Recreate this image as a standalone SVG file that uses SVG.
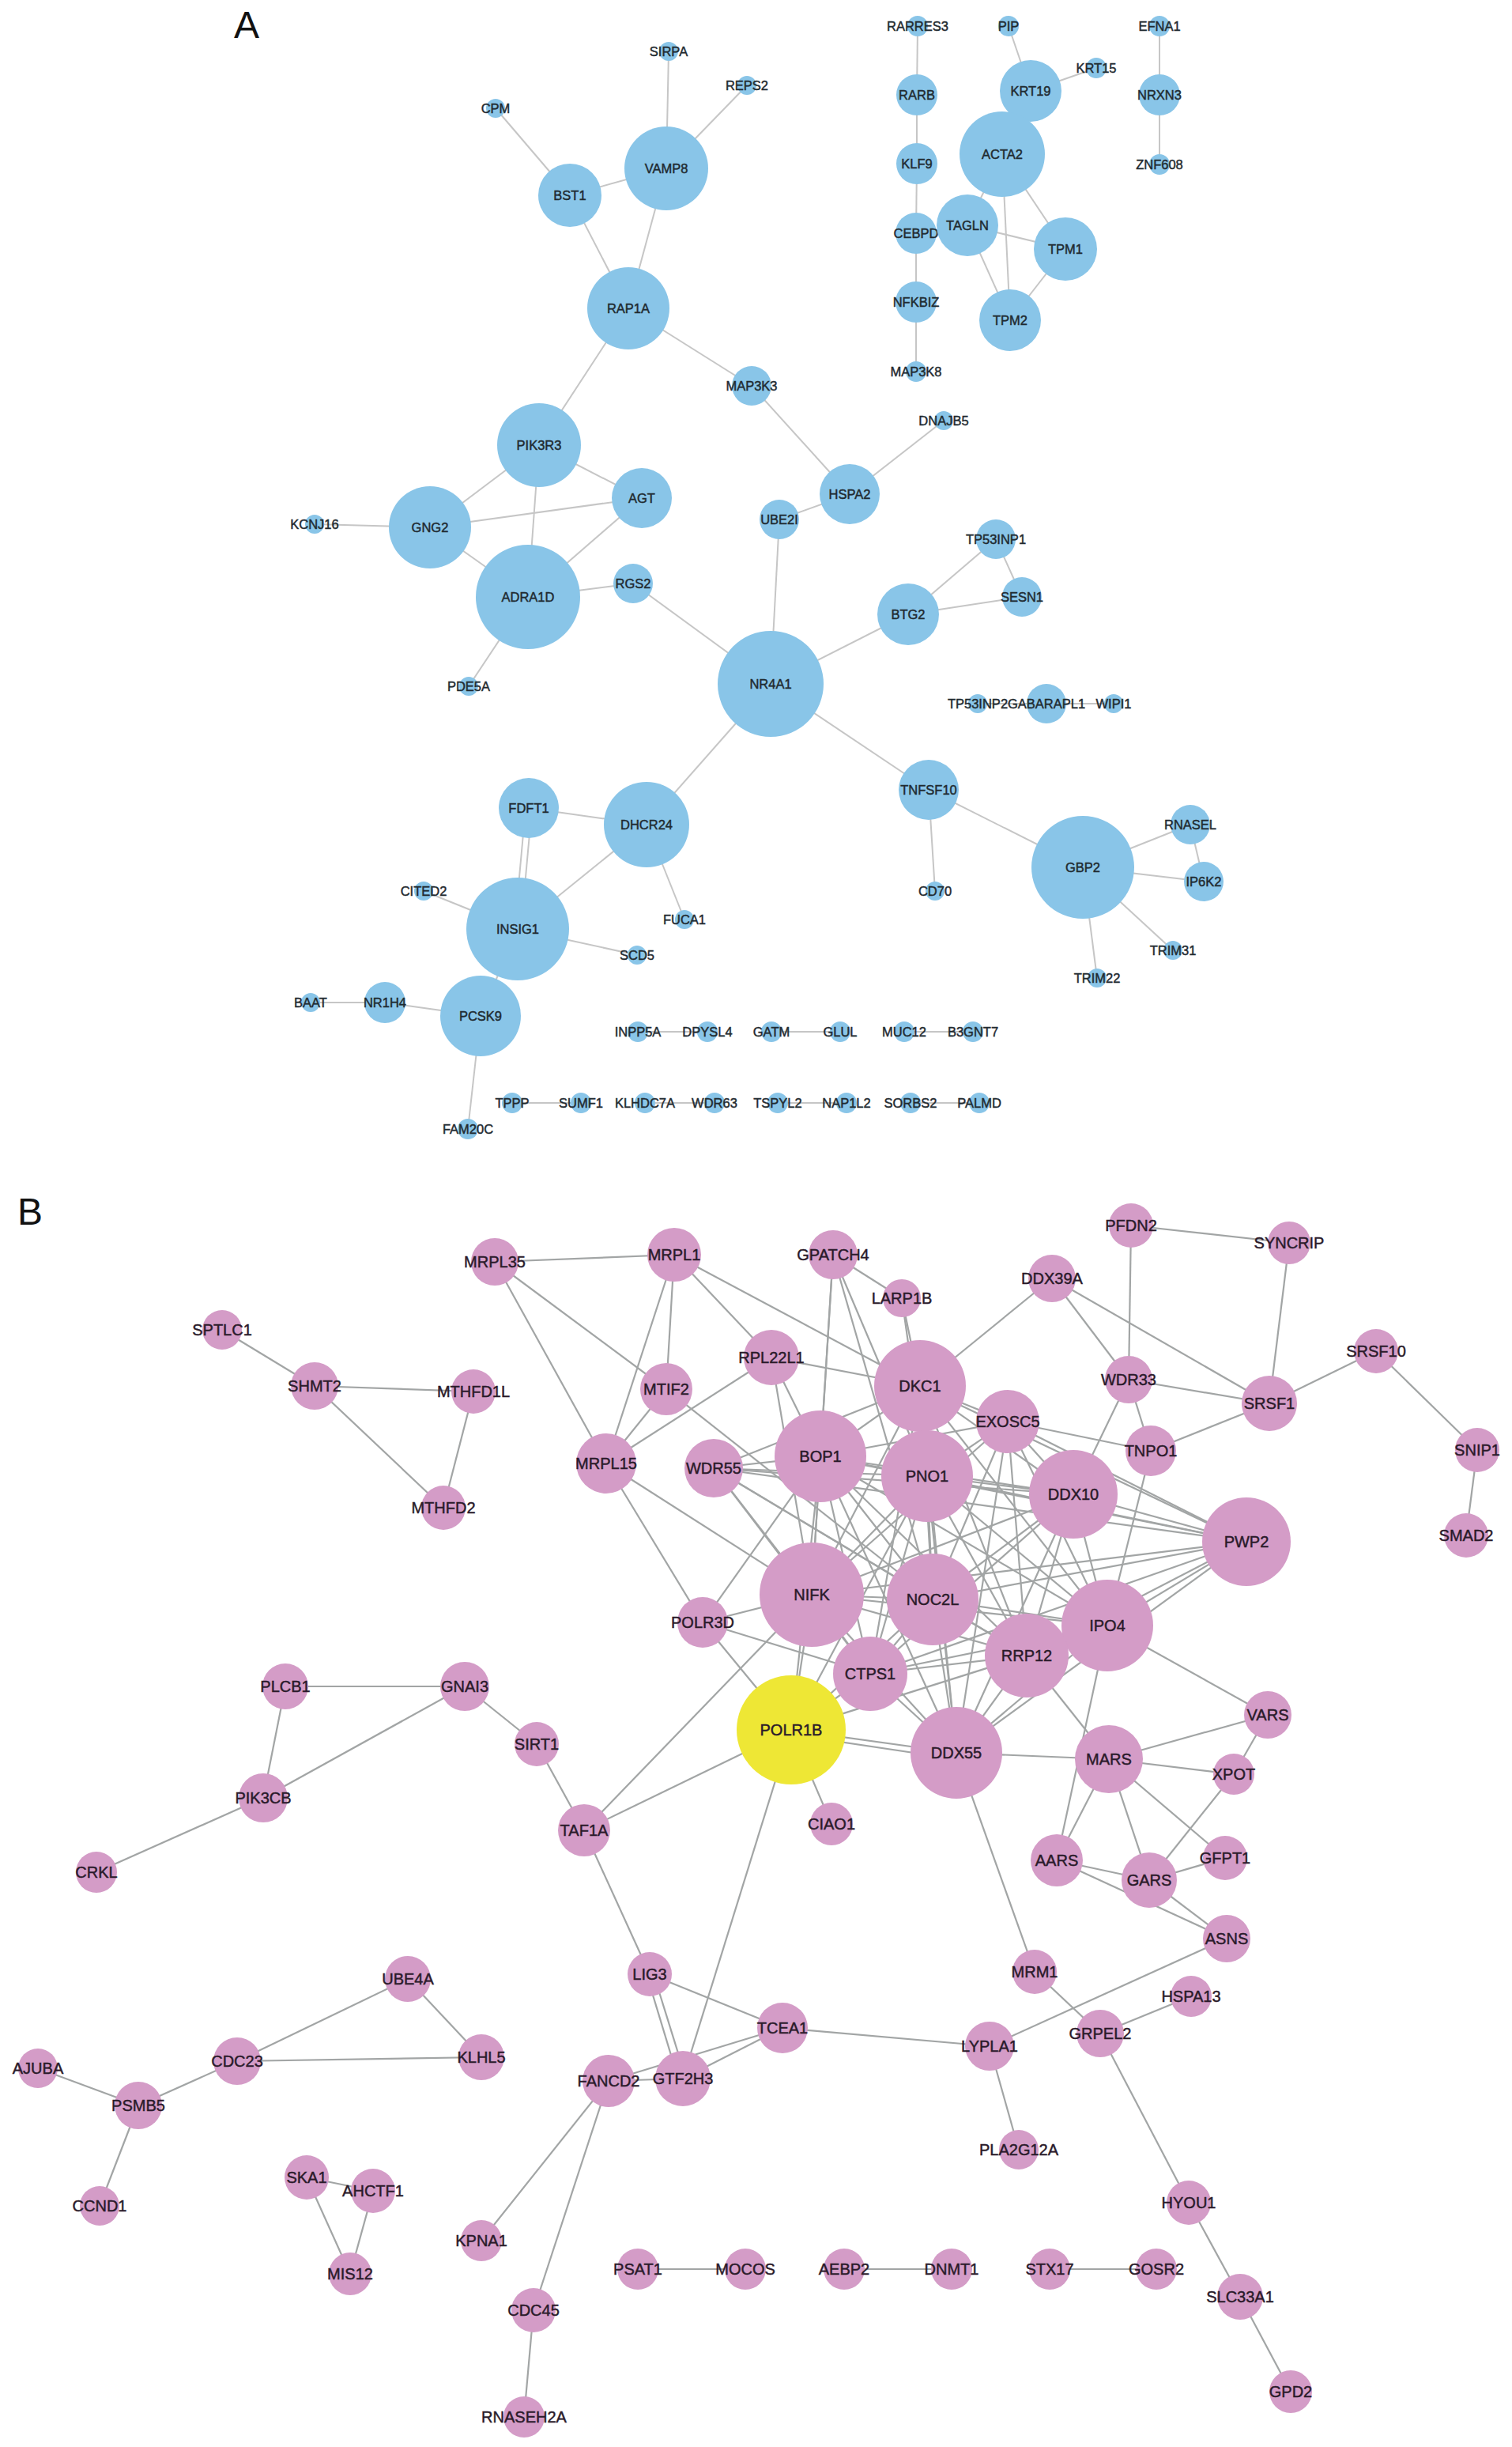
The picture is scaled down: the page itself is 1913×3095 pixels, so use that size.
<svg xmlns="http://www.w3.org/2000/svg" width="1913" height="3095" viewBox="0 0 1913 3095">
<style>
.bg{fill:#ffffff}
.ea line{stroke:#c6c6c6;stroke-width:2}
.eb line{stroke:#a2a5a5;stroke-width:2.2}
.na{fill:#89c5e8}
.nb{fill:#d49cc7}
.ny{fill:#eee735}
text{font-family:"Liberation Sans",Arial,sans-serif;text-anchor:middle;dominant-baseline:central}
.la{font-size:16.5px;fill:#1f2a30;stroke:#1f2a30;stroke-width:0.45}
.lb{font-size:20px;fill:#2a1a2a;stroke:#2a1a2a;stroke-width:0.45}
.panel{font-size:48px;fill:#111;text-anchor:start;dominant-baseline:alphabetic}
</style>
<rect class="bg" x="0" y="0" width="1913" height="3095"/>
<text class="panel" x="296" y="48">A</text>
<text class="panel" x="22" y="1549">B</text>

<g id="edges-A" class="ea">
<line x1="627" y1="137" x2="721" y2="247"/>
<line x1="846" y1="65" x2="843" y2="213"/>
<line x1="945" y1="108" x2="843" y2="213"/>
<line x1="721" y1="247" x2="843" y2="213"/>
<line x1="721" y1="247" x2="795" y2="390"/>
<line x1="843" y1="213" x2="795" y2="390"/>
<line x1="795" y1="390" x2="951" y2="488"/>
<line x1="795" y1="390" x2="682" y2="563"/>
<line x1="951" y1="488" x2="1075" y2="625"/>
<line x1="1075" y1="625" x2="1194" y2="532"/>
<line x1="1075" y1="625" x2="986" y2="657"/>
<line x1="986" y1="657" x2="975" y2="865"/>
<line x1="682" y1="563" x2="544" y2="667"/>
<line x1="682" y1="563" x2="812" y2="630"/>
<line x1="682" y1="563" x2="668" y2="755"/>
<line x1="544" y1="667" x2="812" y2="630"/>
<line x1="544" y1="667" x2="398" y2="663"/>
<line x1="544" y1="667" x2="668" y2="755"/>
<line x1="812" y1="630" x2="668" y2="755"/>
<line x1="668" y1="755" x2="801" y2="738"/>
<line x1="668" y1="755" x2="593" y2="868"/>
<line x1="801" y1="738" x2="975" y2="865"/>
<line x1="975" y1="865" x2="1149" y2="777"/>
<line x1="1149" y1="777" x2="1260" y2="682"/>
<line x1="1149" y1="777" x2="1293" y2="755"/>
<line x1="1260" y1="682" x2="1293" y2="755"/>
<line x1="975" y1="865" x2="818" y2="1043"/>
<line x1="975" y1="865" x2="1175" y2="999"/>
<line x1="1237" y1="890" x2="1324" y2="890"/>
<line x1="1324" y1="890" x2="1409" y2="890"/>
<line x1="1161" y1="33" x2="1160" y2="120"/>
<line x1="1160" y1="120" x2="1160" y2="207"/>
<line x1="1160" y1="207" x2="1159" y2="295"/>
<line x1="1159" y1="295" x2="1159" y2="382"/>
<line x1="1159" y1="382" x2="1159" y2="470"/>
<line x1="1276" y1="33" x2="1304" y2="115"/>
<line x1="1304" y1="115" x2="1387" y2="86"/>
<line x1="1304" y1="115" x2="1268" y2="195"/>
<line x1="1268" y1="195" x2="1224" y2="285"/>
<line x1="1268" y1="195" x2="1348" y2="315"/>
<line x1="1268" y1="195" x2="1278" y2="405"/>
<line x1="1224" y1="285" x2="1348" y2="315"/>
<line x1="1224" y1="285" x2="1278" y2="405"/>
<line x1="1348" y1="315" x2="1278" y2="405"/>
<line x1="1467" y1="33" x2="1467" y2="120"/>
<line x1="1467" y1="120" x2="1467" y2="208"/>
<line x1="818" y1="1043" x2="669" y2="1022"/>
<line x1="818" y1="1043" x2="655" y2="1175"/>
<line x1="818" y1="1043" x2="866" y2="1163"/>
<line x1="665" y1="1022" x2="651" y2="1175"/>
<line x1="673" y1="1022" x2="659" y2="1175"/>
<line x1="655" y1="1175" x2="536" y2="1127"/>
<line x1="655" y1="1175" x2="806" y2="1208"/>
<line x1="655" y1="1175" x2="608" y2="1285"/>
<line x1="608" y1="1285" x2="487" y2="1268"/>
<line x1="487" y1="1268" x2="393" y2="1268"/>
<line x1="608" y1="1285" x2="592" y2="1428"/>
<line x1="1175" y1="999" x2="1183" y2="1127"/>
<line x1="1175" y1="999" x2="1370" y2="1097"/>
<line x1="1370" y1="1097" x2="1506" y2="1043"/>
<line x1="1370" y1="1097" x2="1523" y2="1115"/>
<line x1="1506" y1="1043" x2="1523" y2="1115"/>
<line x1="1370" y1="1097" x2="1484" y2="1202"/>
<line x1="1370" y1="1097" x2="1388" y2="1237"/>
<line x1="807" y1="1305" x2="895" y2="1305"/>
<line x1="976" y1="1305" x2="1063" y2="1305"/>
<line x1="1144" y1="1305" x2="1231" y2="1305"/>
<line x1="648" y1="1395" x2="735" y2="1395"/>
<line x1="816" y1="1395" x2="904" y2="1395"/>
<line x1="984" y1="1395" x2="1071" y2="1395"/>
<line x1="1152" y1="1395" x2="1239" y2="1395"/>
</g>

<g id="edges-B" class="eb">
<line x1="1038" y1="1842" x2="1173" y2="1867"/>
<line x1="1038" y1="1842" x2="1164" y2="1753"/>
<line x1="1038" y1="1842" x2="1027" y2="2017"/>
<line x1="1038" y1="1842" x2="1180" y2="2023"/>
<line x1="1038" y1="1842" x2="1358" y2="1890"/>
<line x1="1038" y1="1842" x2="1577" y2="1950"/>
<line x1="1038" y1="1842" x2="1401" y2="2056"/>
<line x1="1038" y1="1842" x2="1299" y2="2094"/>
<line x1="1038" y1="1842" x2="1210" y2="2217"/>
<line x1="1038" y1="1842" x2="1101" y2="2117"/>
<line x1="1038" y1="1842" x2="1275" y2="1798"/>
<line x1="1038" y1="1842" x2="903" y2="1857"/>
<line x1="1173" y1="1867" x2="1164" y2="1753"/>
<line x1="1173" y1="1867" x2="1027" y2="2017"/>
<line x1="1173" y1="1867" x2="1180" y2="2023"/>
<line x1="1173" y1="1867" x2="1358" y2="1890"/>
<line x1="1173" y1="1867" x2="1577" y2="1950"/>
<line x1="1173" y1="1867" x2="1401" y2="2056"/>
<line x1="1173" y1="1867" x2="1299" y2="2094"/>
<line x1="1173" y1="1867" x2="1210" y2="2217"/>
<line x1="1173" y1="1867" x2="1101" y2="2117"/>
<line x1="1173" y1="1867" x2="1275" y2="1798"/>
<line x1="1173" y1="1867" x2="903" y2="1857"/>
<line x1="1164" y1="1753" x2="1027" y2="2017"/>
<line x1="1164" y1="1753" x2="1180" y2="2023"/>
<line x1="1164" y1="1753" x2="1358" y2="1890"/>
<line x1="1164" y1="1753" x2="1577" y2="1950"/>
<line x1="1164" y1="1753" x2="1401" y2="2056"/>
<line x1="1164" y1="1753" x2="1299" y2="2094"/>
<line x1="1164" y1="1753" x2="1210" y2="2217"/>
<line x1="1164" y1="1753" x2="1101" y2="2117"/>
<line x1="1164" y1="1753" x2="1275" y2="1798"/>
<line x1="1164" y1="1753" x2="903" y2="1857"/>
<line x1="1027" y1="2017" x2="1180" y2="2023"/>
<line x1="1027" y1="2017" x2="1358" y2="1890"/>
<line x1="1027" y1="2017" x2="1577" y2="1950"/>
<line x1="1027" y1="2017" x2="1401" y2="2056"/>
<line x1="1027" y1="2017" x2="1299" y2="2094"/>
<line x1="1027" y1="2017" x2="1210" y2="2217"/>
<line x1="1027" y1="2017" x2="1101" y2="2117"/>
<line x1="1027" y1="2017" x2="1275" y2="1798"/>
<line x1="1027" y1="2017" x2="903" y2="1857"/>
<line x1="1180" y1="2023" x2="1358" y2="1890"/>
<line x1="1180" y1="2023" x2="1577" y2="1950"/>
<line x1="1180" y1="2023" x2="1401" y2="2056"/>
<line x1="1180" y1="2023" x2="1299" y2="2094"/>
<line x1="1180" y1="2023" x2="1210" y2="2217"/>
<line x1="1180" y1="2023" x2="1101" y2="2117"/>
<line x1="1180" y1="2023" x2="1275" y2="1798"/>
<line x1="1180" y1="2023" x2="903" y2="1857"/>
<line x1="1358" y1="1890" x2="1577" y2="1950"/>
<line x1="1358" y1="1890" x2="1401" y2="2056"/>
<line x1="1358" y1="1890" x2="1299" y2="2094"/>
<line x1="1358" y1="1890" x2="1210" y2="2217"/>
<line x1="1358" y1="1890" x2="1101" y2="2117"/>
<line x1="1358" y1="1890" x2="1275" y2="1798"/>
<line x1="1358" y1="1890" x2="903" y2="1857"/>
<line x1="1577" y1="1950" x2="1401" y2="2056"/>
<line x1="1577" y1="1950" x2="1299" y2="2094"/>
<line x1="1577" y1="1950" x2="1210" y2="2217"/>
<line x1="1577" y1="1950" x2="1101" y2="2117"/>
<line x1="1577" y1="1950" x2="1275" y2="1798"/>
<line x1="1577" y1="1950" x2="903" y2="1857"/>
<line x1="1401" y1="2056" x2="1299" y2="2094"/>
<line x1="1401" y1="2056" x2="1210" y2="2217"/>
<line x1="1401" y1="2056" x2="1101" y2="2117"/>
<line x1="1401" y1="2056" x2="1275" y2="1798"/>
<line x1="1299" y1="2094" x2="1210" y2="2217"/>
<line x1="1299" y1="2094" x2="1101" y2="2117"/>
<line x1="1299" y1="2094" x2="1275" y2="1798"/>
<line x1="1299" y1="2094" x2="903" y2="1857"/>
<line x1="1210" y1="2217" x2="1101" y2="2117"/>
<line x1="1210" y1="2217" x2="1275" y2="1798"/>
<line x1="1101" y1="2117" x2="903" y2="1857"/>
<line x1="281" y1="1682" x2="398" y2="1753"/>
<line x1="398" y1="1753" x2="599" y2="1760"/>
<line x1="398" y1="1753" x2="561" y2="1907"/>
<line x1="599" y1="1760" x2="561" y2="1907"/>
<line x1="626" y1="1596" x2="853" y2="1587"/>
<line x1="626" y1="1596" x2="767" y2="1851"/>
<line x1="626" y1="1596" x2="843" y2="1757"/>
<line x1="853" y1="1587" x2="843" y2="1757"/>
<line x1="853" y1="1587" x2="767" y2="1851"/>
<line x1="853" y1="1587" x2="976" y2="1717"/>
<line x1="853" y1="1587" x2="1164" y2="1753"/>
<line x1="767" y1="1851" x2="843" y2="1757"/>
<line x1="767" y1="1851" x2="976" y2="1717"/>
<line x1="767" y1="1851" x2="1027" y2="2017"/>
<line x1="767" y1="1851" x2="889" y2="2052"/>
<line x1="843" y1="1757" x2="1180" y2="2023"/>
<line x1="976" y1="1717" x2="1164" y2="1753"/>
<line x1="976" y1="1717" x2="1038" y2="1842"/>
<line x1="976" y1="1717" x2="1027" y2="2017"/>
<line x1="1054" y1="1587" x2="1141" y2="1642"/>
<line x1="1054" y1="1587" x2="1038" y2="1842"/>
<line x1="1054" y1="1587" x2="1027" y2="2017"/>
<line x1="1054" y1="1587" x2="1173" y2="1867"/>
<line x1="1054" y1="1587" x2="1180" y2="2023"/>
<line x1="1141" y1="1642" x2="1164" y2="1753"/>
<line x1="1141" y1="1642" x2="1173" y2="1867"/>
<line x1="1331" y1="1617" x2="1164" y2="1753"/>
<line x1="1331" y1="1617" x2="1428" y2="1745"/>
<line x1="1331" y1="1617" x2="1606" y2="1775"/>
<line x1="1431" y1="1550" x2="1631" y2="1572"/>
<line x1="1431" y1="1550" x2="1428" y2="1745"/>
<line x1="1631" y1="1572" x2="1606" y2="1775"/>
<line x1="1428" y1="1745" x2="1606" y2="1775"/>
<line x1="1428" y1="1745" x2="1456" y2="1835"/>
<line x1="1428" y1="1745" x2="1358" y2="1890"/>
<line x1="1606" y1="1775" x2="1456" y2="1835"/>
<line x1="1606" y1="1775" x2="1741" y2="1709"/>
<line x1="1741" y1="1709" x2="1869" y2="1834"/>
<line x1="1869" y1="1834" x2="1855" y2="1942"/>
<line x1="1275" y1="1798" x2="1456" y2="1835"/>
<line x1="1456" y1="1835" x2="1401" y2="2056"/>
<line x1="889" y1="2052" x2="1027" y2="2017"/>
<line x1="889" y1="2052" x2="1038" y2="1842"/>
<line x1="889" y1="2052" x2="1001" y2="2188"/>
<line x1="889" y1="2052" x2="1101" y2="2117"/>
<line x1="1001" y1="2188" x2="1052" y2="2307"/>
<line x1="1001" y1="2188" x2="739" y2="2315"/>
<line x1="1001" y1="2188" x2="864" y2="2629"/>
<line x1="1001" y1="2188" x2="1210" y2="2217"/>
<line x1="1001" y1="2194" x2="1210" y2="2225"/>
<line x1="1001" y1="2188" x2="1027" y2="2017"/>
<line x1="1001" y1="2188" x2="1101" y2="2117"/>
<line x1="1001" y1="2188" x2="1180" y2="2023"/>
<line x1="1001" y1="2188" x2="1173" y2="1867"/>
<line x1="1001" y1="2188" x2="1299" y2="2094"/>
<line x1="1001" y1="2188" x2="1038" y2="1842"/>
<line x1="739" y1="2315" x2="1027" y2="2017"/>
<line x1="739" y1="2315" x2="679" y2="2206"/>
<line x1="739" y1="2315" x2="822" y2="2497"/>
<line x1="361" y1="2133" x2="588" y2="2133"/>
<line x1="361" y1="2133" x2="333" y2="2274"/>
<line x1="588" y1="2133" x2="333" y2="2274"/>
<line x1="588" y1="2133" x2="679" y2="2206"/>
<line x1="333" y1="2274" x2="122" y2="2368"/>
<line x1="818" y1="2497" x2="858" y2="2629"/>
<line x1="827" y1="2497" x2="868" y2="2629"/>
<line x1="822" y1="2497" x2="990" y2="2565"/>
<line x1="864" y1="2629" x2="770" y2="2632"/>
<line x1="864" y1="2629" x2="990" y2="2565"/>
<line x1="770" y1="2632" x2="990" y2="2565"/>
<line x1="770" y1="2632" x2="609" y2="2834"/>
<line x1="770" y1="2632" x2="675" y2="2922"/>
<line x1="675" y1="2922" x2="663" y2="3057"/>
<line x1="990" y1="2565" x2="1252" y2="2588"/>
<line x1="1252" y1="2588" x2="1552" y2="2452"/>
<line x1="1252" y1="2588" x2="1289" y2="2719"/>
<line x1="1210" y1="2217" x2="1309" y2="2494"/>
<line x1="1309" y1="2494" x2="1392" y2="2572"/>
<line x1="1392" y1="2572" x2="1507" y2="2525"/>
<line x1="1392" y1="2572" x2="1504" y2="2786"/>
<line x1="1504" y1="2786" x2="1569" y2="2905"/>
<line x1="1569" y1="2905" x2="1633" y2="3025"/>
<line x1="1210" y1="2217" x2="1403" y2="2225"/>
<line x1="1401" y1="2056" x2="1604" y2="2169"/>
<line x1="1401" y1="2056" x2="1337" y2="2353"/>
<line x1="1299" y1="2094" x2="1403" y2="2225"/>
<line x1="1403" y1="2225" x2="1604" y2="2169"/>
<line x1="1403" y1="2225" x2="1561" y2="2244"/>
<line x1="1403" y1="2225" x2="1337" y2="2353"/>
<line x1="1403" y1="2225" x2="1454" y2="2378"/>
<line x1="1403" y1="2225" x2="1550" y2="2350"/>
<line x1="1604" y1="2169" x2="1561" y2="2244"/>
<line x1="1561" y1="2244" x2="1454" y2="2378"/>
<line x1="1337" y1="2353" x2="1454" y2="2378"/>
<line x1="1337" y1="2353" x2="1552" y2="2452"/>
<line x1="1454" y1="2378" x2="1552" y2="2452"/>
<line x1="1454" y1="2378" x2="1550" y2="2350"/>
<line x1="516" y1="2503" x2="300" y2="2607"/>
<line x1="516" y1="2503" x2="609" y2="2602"/>
<line x1="300" y1="2607" x2="609" y2="2602"/>
<line x1="300" y1="2607" x2="175" y2="2663"/>
<line x1="175" y1="2663" x2="48" y2="2616"/>
<line x1="175" y1="2663" x2="126" y2="2790"/>
<line x1="388" y1="2754" x2="472" y2="2771"/>
<line x1="388" y1="2754" x2="443" y2="2876"/>
<line x1="472" y1="2771" x2="443" y2="2876"/>
<line x1="807" y1="2870" x2="943" y2="2870"/>
<line x1="1068" y1="2870" x2="1204" y2="2870"/>
<line x1="1328" y1="2870" x2="1463" y2="2870"/>
</g>

<g id="nodes-A">
<g id="n-SIRPA"><circle class="na" cx="846" cy="65" r="12"/><text class="la" x="846" y="65">SIRPA</text></g>
<g id="n-REPS2"><circle class="na" cx="945" cy="108" r="12"/><text class="la" x="945" y="108">REPS2</text></g>
<g id="n-CPM"><circle class="na" cx="627" cy="137" r="12"/><text class="la" x="627" y="137">CPM</text></g>
<g id="n-VAMP8"><circle class="na" cx="843" cy="213" r="53"/><text class="la" x="843" y="213">VAMP8</text></g>
<g id="n-BST1"><circle class="na" cx="721" cy="247" r="40"/><text class="la" x="721" y="247">BST1</text></g>
<g id="n-RAP1A"><circle class="na" cx="795" cy="390" r="52"/><text class="la" x="795" y="390">RAP1A</text></g>
<g id="n-MAP3K3"><circle class="na" cx="951" cy="488" r="25"/><text class="la" x="951" y="488">MAP3K3</text></g>
<g id="n-RARRES3"><circle class="na" cx="1161" cy="33" r="13"/><text class="la" x="1161" y="33">RARRES3</text></g>
<g id="n-PIP"><circle class="na" cx="1276" cy="33" r="13"/><text class="la" x="1276" y="33">PIP</text></g>
<g id="n-EFNA1"><circle class="na" cx="1467" cy="33" r="13"/><text class="la" x="1467" y="33">EFNA1</text></g>
<g id="n-KRT15"><circle class="na" cx="1387" cy="86" r="13"/><text class="la" x="1387" y="86">KRT15</text></g>
<g id="n-RARB"><circle class="na" cx="1160" cy="120" r="26"/><text class="la" x="1160" y="120">RARB</text></g>
<g id="n-KRT19"><circle class="na" cx="1304" cy="115" r="39"/><text class="la" x="1304" y="115">KRT19</text></g>
<g id="n-NRXN3"><circle class="na" cx="1467" cy="120" r="26"/><text class="la" x="1467" y="120">NRXN3</text></g>
<g id="n-KLF9"><circle class="na" cx="1160" cy="207" r="26"/><text class="la" x="1160" y="207">KLF9</text></g>
<g id="n-ACTA2"><circle class="na" cx="1268" cy="195" r="54"/><text class="la" x="1268" y="195">ACTA2</text></g>
<g id="n-ZNF608"><circle class="na" cx="1467" cy="208" r="13"/><text class="la" x="1467" y="208">ZNF608</text></g>
<g id="n-CEBPD"><circle class="na" cx="1159" cy="295" r="26"/><text class="la" x="1159" y="295">CEBPD</text></g>
<g id="n-TAGLN"><circle class="na" cx="1224" cy="285" r="39"/><text class="la" x="1224" y="285">TAGLN</text></g>
<g id="n-TPM1"><circle class="na" cx="1348" cy="315" r="40"/><text class="la" x="1348" y="315">TPM1</text></g>
<g id="n-NFKBIZ"><circle class="na" cx="1159" cy="382" r="26"/><text class="la" x="1159" y="382">NFKBIZ</text></g>
<g id="n-TPM2"><circle class="na" cx="1278" cy="405" r="39"/><text class="la" x="1278" y="405">TPM2</text></g>
<g id="n-MAP3K8"><circle class="na" cx="1159" cy="470" r="13"/><text class="la" x="1159" y="470">MAP3K8</text></g>
<g id="n-DNAJB5"><circle class="na" cx="1194" cy="532" r="12"/><text class="la" x="1194" y="532">DNAJB5</text></g>
<g id="n-PIK3R3"><circle class="na" cx="682" cy="563" r="53"/><text class="la" x="682" y="563">PIK3R3</text></g>
<g id="n-HSPA2"><circle class="na" cx="1075" cy="625" r="38"/><text class="la" x="1075" y="625">HSPA2</text></g>
<g id="n-AGT"><circle class="na" cx="812" cy="630" r="38"/><text class="la" x="812" y="630">AGT</text></g>
<g id="n-GNG2"><circle class="na" cx="544" cy="667" r="52"/><text class="la" x="544" y="667">GNG2</text></g>
<g id="n-KCNJ16"><circle class="na" cx="398" cy="663" r="12"/><text class="la" x="398" y="663">KCNJ16</text></g>
<g id="n-UBE2I"><circle class="na" cx="986" cy="657" r="25"/><text class="la" x="986" y="657">UBE2I</text></g>
<g id="n-TP53INP1"><circle class="na" cx="1260" cy="682" r="25"/><text class="la" x="1260" y="682">TP53INP1</text></g>
<g id="n-RGS2"><circle class="na" cx="801" cy="738" r="25"/><text class="la" x="801" y="738">RGS2</text></g>
<g id="n-ADRA1D"><circle class="na" cx="668" cy="755" r="66"/><text class="la" x="668" y="755">ADRA1D</text></g>
<g id="n-SESN1"><circle class="na" cx="1293" cy="755" r="25"/><text class="la" x="1293" y="755">SESN1</text></g>
<g id="n-BTG2"><circle class="na" cx="1149" cy="777" r="39"/><text class="la" x="1149" y="777">BTG2</text></g>
<g id="n-PDE5A"><circle class="na" cx="593" cy="868" r="12"/><text class="la" x="593" y="868">PDE5A</text></g>
<g id="n-NR4A1"><circle class="na" cx="975" cy="865" r="67"/><text class="la" x="975" y="865">NR4A1</text></g>
<g id="n-TP53INP2"><circle class="na" cx="1237" cy="890" r="12"/><text class="la" x="1237" y="890">TP53INP2</text></g>
<g id="n-GABARAPL1"><circle class="na" cx="1324" cy="890" r="25"/><text class="la" x="1324" y="890">GABARAPL1</text></g>
<g id="n-WIPI1"><circle class="na" cx="1409" cy="890" r="12"/><text class="la" x="1409" y="890">WIPI1</text></g>
<g id="n-TNFSF10"><circle class="na" cx="1175" cy="999" r="38"/><text class="la" x="1175" y="999">TNFSF10</text></g>
<g id="n-FDFT1"><circle class="na" cx="669" cy="1022" r="38"/><text class="la" x="669" y="1022">FDFT1</text></g>
<g id="n-DHCR24"><circle class="na" cx="818" cy="1043" r="54"/><text class="la" x="818" y="1043">DHCR24</text></g>
<g id="n-RNASEL"><circle class="na" cx="1506" cy="1043" r="25"/><text class="la" x="1506" y="1043">RNASEL</text></g>
<g id="n-GBP2"><circle class="na" cx="1370" cy="1097" r="65"/><text class="la" x="1370" y="1097">GBP2</text></g>
<g id="n-IP6K2"><circle class="na" cx="1523" cy="1115" r="25"/><text class="la" x="1523" y="1115">IP6K2</text></g>
<g id="n-CD70"><circle class="na" cx="1183" cy="1127" r="12"/><text class="la" x="1183" y="1127">CD70</text></g>
<g id="n-CITED2"><circle class="na" cx="536" cy="1127" r="12"/><text class="la" x="536" y="1127">CITED2</text></g>
<g id="n-INSIG1"><circle class="na" cx="655" cy="1175" r="65"/><text class="la" x="655" y="1175">INSIG1</text></g>
<g id="n-FUCA1"><circle class="na" cx="866" cy="1163" r="12"/><text class="la" x="866" y="1163">FUCA1</text></g>
<g id="n-SCD5"><circle class="na" cx="806" cy="1208" r="12"/><text class="la" x="806" y="1208">SCD5</text></g>
<g id="n-TRIM31"><circle class="na" cx="1484" cy="1202" r="12"/><text class="la" x="1484" y="1202">TRIM31</text></g>
<g id="n-TRIM22"><circle class="na" cx="1388" cy="1237" r="12"/><text class="la" x="1388" y="1237">TRIM22</text></g>
<g id="n-BAAT"><circle class="na" cx="393" cy="1268" r="12"/><text class="la" x="393" y="1268">BAAT</text></g>
<g id="n-NR1H4"><circle class="na" cx="487" cy="1268" r="26"/><text class="la" x="487" y="1268">NR1H4</text></g>
<g id="n-PCSK9"><circle class="na" cx="608" cy="1285" r="51"/><text class="la" x="608" y="1285">PCSK9</text></g>
<g id="n-INPP5A"><circle class="na" cx="807" cy="1305" r="13"/><text class="la" x="807" y="1305">INPP5A</text></g>
<g id="n-DPYSL4"><circle class="na" cx="895" cy="1305" r="13"/><text class="la" x="895" y="1305">DPYSL4</text></g>
<g id="n-GATM"><circle class="na" cx="976" cy="1305" r="13"/><text class="la" x="976" y="1305">GATM</text></g>
<g id="n-GLUL"><circle class="na" cx="1063" cy="1305" r="13"/><text class="la" x="1063" y="1305">GLUL</text></g>
<g id="n-MUC12"><circle class="na" cx="1144" cy="1305" r="13"/><text class="la" x="1144" y="1305">MUC12</text></g>
<g id="n-B3GNT7"><circle class="na" cx="1231" cy="1305" r="13"/><text class="la" x="1231" y="1305">B3GNT7</text></g>
<g id="n-TPPP"><circle class="na" cx="648" cy="1395" r="13"/><text class="la" x="648" y="1395">TPPP</text></g>
<g id="n-SUMF1"><circle class="na" cx="735" cy="1395" r="13"/><text class="la" x="735" y="1395">SUMF1</text></g>
<g id="n-KLHDC7A"><circle class="na" cx="816" cy="1395" r="13"/><text class="la" x="816" y="1395">KLHDC7A</text></g>
<g id="n-WDR63"><circle class="na" cx="904" cy="1395" r="13"/><text class="la" x="904" y="1395">WDR63</text></g>
<g id="n-TSPYL2"><circle class="na" cx="984" cy="1395" r="13"/><text class="la" x="984" y="1395">TSPYL2</text></g>
<g id="n-NAP1L2"><circle class="na" cx="1071" cy="1395" r="13"/><text class="la" x="1071" y="1395">NAP1L2</text></g>
<g id="n-SORBS2"><circle class="na" cx="1152" cy="1395" r="13"/><text class="la" x="1152" y="1395">SORBS2</text></g>
<g id="n-PALMD"><circle class="na" cx="1239" cy="1395" r="13"/><text class="la" x="1239" y="1395">PALMD</text></g>
<g id="n-FAM20C"><circle class="na" cx="592" cy="1428" r="13"/><text class="la" x="592" y="1428">FAM20C</text></g>
</g>

<g id="nodes-B">
<g id="n-MRPL35"><circle class="nb" cx="626" cy="1596" r="30"/><text class="lb" x="626" y="1596">MRPL35</text></g>
<g id="n-MRPL1"><circle class="nb" cx="853" cy="1587" r="34"/><text class="lb" x="853" y="1587">MRPL1</text></g>
<g id="n-GPATCH4"><circle class="nb" cx="1054" cy="1587" r="31"/><text class="lb" x="1054" y="1587">GPATCH4</text></g>
<g id="n-LARP1B"><circle class="nb" cx="1141" cy="1642" r="24"/><text class="lb" x="1141" y="1642">LARP1B</text></g>
<g id="n-DDX39A"><circle class="nb" cx="1331" cy="1617" r="30"/><text class="lb" x="1331" y="1617">DDX39A</text></g>
<g id="n-PFDN2"><circle class="nb" cx="1431" cy="1550" r="28"/><text class="lb" x="1431" y="1550">PFDN2</text></g>
<g id="n-SYNCRIP"><circle class="nb" cx="1631" cy="1572" r="27"/><text class="lb" x="1631" y="1572">SYNCRIP</text></g>
<g id="n-SRSF10"><circle class="nb" cx="1741" cy="1709" r="28"/><text class="lb" x="1741" y="1709">SRSF10</text></g>
<g id="n-SNIP1"><circle class="nb" cx="1869" cy="1834" r="28"/><text class="lb" x="1869" y="1834">SNIP1</text></g>
<g id="n-SMAD2"><circle class="nb" cx="1855" cy="1942" r="28"/><text class="lb" x="1855" y="1942">SMAD2</text></g>
<g id="n-SPTLC1"><circle class="nb" cx="281" cy="1682" r="25"/><text class="lb" x="281" y="1682">SPTLC1</text></g>
<g id="n-SHMT2"><circle class="nb" cx="398" cy="1753" r="30"/><text class="lb" x="398" y="1753">SHMT2</text></g>
<g id="n-MTHFD1L"><circle class="nb" cx="599" cy="1760" r="28"/><text class="lb" x="599" y="1760">MTHFD1L</text></g>
<g id="n-MTHFD2"><circle class="nb" cx="561" cy="1907" r="28"/><text class="lb" x="561" y="1907">MTHFD2</text></g>
<g id="n-MRPL15"><circle class="nb" cx="767" cy="1851" r="38"/><text class="lb" x="767" y="1851">MRPL15</text></g>
<g id="n-MTIF2"><circle class="nb" cx="843" cy="1757" r="33"/><text class="lb" x="843" y="1757">MTIF2</text></g>
<g id="n-RPL22L1"><circle class="nb" cx="976" cy="1717" r="35"/><text class="lb" x="976" y="1717">RPL22L1</text></g>
<g id="n-DKC1"><circle class="nb" cx="1164" cy="1753" r="58"/><text class="lb" x="1164" y="1753">DKC1</text></g>
<g id="n-WDR33"><circle class="nb" cx="1428" cy="1745" r="30"/><text class="lb" x="1428" y="1745">WDR33</text></g>
<g id="n-SRSF1"><circle class="nb" cx="1606" cy="1775" r="35"/><text class="lb" x="1606" y="1775">SRSF1</text></g>
<g id="n-EXOSC5"><circle class="nb" cx="1275" cy="1798" r="40"/><text class="lb" x="1275" y="1798">EXOSC5</text></g>
<g id="n-TNPO1"><circle class="nb" cx="1456" cy="1835" r="32"/><text class="lb" x="1456" y="1835">TNPO1</text></g>
<g id="n-WDR55"><circle class="nb" cx="903" cy="1857" r="37"/><text class="lb" x="903" y="1857">WDR55</text></g>
<g id="n-BOP1"><circle class="nb" cx="1038" cy="1842" r="58"/><text class="lb" x="1038" y="1842">BOP1</text></g>
<g id="n-PNO1"><circle class="nb" cx="1173" cy="1867" r="58"/><text class="lb" x="1173" y="1867">PNO1</text></g>
<g id="n-DDX10"><circle class="nb" cx="1358" cy="1890" r="56"/><text class="lb" x="1358" y="1890">DDX10</text></g>
<g id="n-PWP2"><circle class="nb" cx="1577" cy="1950" r="56"/><text class="lb" x="1577" y="1950">PWP2</text></g>
<g id="n-NIFK"><circle class="nb" cx="1027" cy="2017" r="66"/><text class="lb" x="1027" y="2017">NIFK</text></g>
<g id="n-NOC2L"><circle class="nb" cx="1180" cy="2023" r="58"/><text class="lb" x="1180" y="2023">NOC2L</text></g>
<g id="n-POLR3D"><circle class="nb" cx="889" cy="2052" r="32"/><text class="lb" x="889" y="2052">POLR3D</text></g>
<g id="n-IPO4"><circle class="nb" cx="1401" cy="2056" r="58"/><text class="lb" x="1401" y="2056">IPO4</text></g>
<g id="n-RRP12"><circle class="nb" cx="1299" cy="2094" r="53"/><text class="lb" x="1299" y="2094">RRP12</text></g>
<g id="n-CTPS1"><circle class="nb" cx="1101" cy="2117" r="47"/><text class="lb" x="1101" y="2117">CTPS1</text></g>
<g id="n-POLR1B"><circle class="ny" cx="1001" cy="2188" r="69"/><text class="lb" x="1001" y="2188">POLR1B</text></g>
<g id="n-VARS"><circle class="nb" cx="1604" cy="2169" r="30"/><text class="lb" x="1604" y="2169">VARS</text></g>
<g id="n-DDX55"><circle class="nb" cx="1210" cy="2217" r="58"/><text class="lb" x="1210" y="2217">DDX55</text></g>
<g id="n-MARS"><circle class="nb" cx="1403" cy="2225" r="43"/><text class="lb" x="1403" y="2225">MARS</text></g>
<g id="n-XPOT"><circle class="nb" cx="1561" cy="2244" r="26"/><text class="lb" x="1561" y="2244">XPOT</text></g>
<g id="n-CIAO1"><circle class="nb" cx="1052" cy="2307" r="27"/><text class="lb" x="1052" y="2307">CIAO1</text></g>
<g id="n-AARS"><circle class="nb" cx="1337" cy="2353" r="33"/><text class="lb" x="1337" y="2353">AARS</text></g>
<g id="n-GFPT1"><circle class="nb" cx="1550" cy="2350" r="28"/><text class="lb" x="1550" y="2350">GFPT1</text></g>
<g id="n-GARS"><circle class="nb" cx="1454" cy="2378" r="35"/><text class="lb" x="1454" y="2378">GARS</text></g>
<g id="n-ASNS"><circle class="nb" cx="1552" cy="2452" r="30"/><text class="lb" x="1552" y="2452">ASNS</text></g>
<g id="n-PLCB1"><circle class="nb" cx="361" cy="2133" r="29"/><text class="lb" x="361" y="2133">PLCB1</text></g>
<g id="n-GNAI3"><circle class="nb" cx="588" cy="2133" r="31"/><text class="lb" x="588" y="2133">GNAI3</text></g>
<g id="n-SIRT1"><circle class="nb" cx="679" cy="2206" r="28"/><text class="lb" x="679" y="2206">SIRT1</text></g>
<g id="n-PIK3CB"><circle class="nb" cx="333" cy="2274" r="31"/><text class="lb" x="333" y="2274">PIK3CB</text></g>
<g id="n-TAF1A"><circle class="nb" cx="739" cy="2315" r="33"/><text class="lb" x="739" y="2315">TAF1A</text></g>
<g id="n-CRKL"><circle class="nb" cx="122" cy="2368" r="26"/><text class="lb" x="122" y="2368">CRKL</text></g>
<g id="n-UBE4A"><circle class="nb" cx="516" cy="2503" r="29"/><text class="lb" x="516" y="2503">UBE4A</text></g>
<g id="n-LIG3"><circle class="nb" cx="822" cy="2497" r="28"/><text class="lb" x="822" y="2497">LIG3</text></g>
<g id="n-MRM1"><circle class="nb" cx="1309" cy="2494" r="28"/><text class="lb" x="1309" y="2494">MRM1</text></g>
<g id="n-HSPA13"><circle class="nb" cx="1507" cy="2525" r="26"/><text class="lb" x="1507" y="2525">HSPA13</text></g>
<g id="n-TCEA1"><circle class="nb" cx="990" cy="2565" r="32"/><text class="lb" x="990" y="2565">TCEA1</text></g>
<g id="n-GRPEL2"><circle class="nb" cx="1392" cy="2572" r="30"/><text class="lb" x="1392" y="2572">GRPEL2</text></g>
<g id="n-LYPLA1"><circle class="nb" cx="1252" cy="2588" r="31"/><text class="lb" x="1252" y="2588">LYPLA1</text></g>
<g id="n-CDC23"><circle class="nb" cx="300" cy="2607" r="30"/><text class="lb" x="300" y="2607">CDC23</text></g>
<g id="n-KLHL5"><circle class="nb" cx="609" cy="2602" r="29"/><text class="lb" x="609" y="2602">KLHL5</text></g>
<g id="n-AJUBA"><circle class="nb" cx="48" cy="2616" r="25"/><text class="lb" x="48" y="2616">AJUBA</text></g>
<g id="n-PSMB5"><circle class="nb" cx="175" cy="2663" r="30"/><text class="lb" x="175" y="2663">PSMB5</text></g>
<g id="n-FANCD2"><circle class="nb" cx="770" cy="2632" r="33"/><text class="lb" x="770" y="2632">FANCD2</text></g>
<g id="n-GTF2H3"><circle class="nb" cx="864" cy="2629" r="35"/><text class="lb" x="864" y="2629">GTF2H3</text></g>
<g id="n-PLA2G12A"><circle class="nb" cx="1289" cy="2719" r="25"/><text class="lb" x="1289" y="2719">PLA2G12A</text></g>
<g id="n-SKA1"><circle class="nb" cx="388" cy="2754" r="28"/><text class="lb" x="388" y="2754">SKA1</text></g>
<g id="n-AHCTF1"><circle class="nb" cx="472" cy="2771" r="28"/><text class="lb" x="472" y="2771">AHCTF1</text></g>
<g id="n-CCND1"><circle class="nb" cx="126" cy="2790" r="25"/><text class="lb" x="126" y="2790">CCND1</text></g>
<g id="n-HYOU1"><circle class="nb" cx="1504" cy="2786" r="28"/><text class="lb" x="1504" y="2786">HYOU1</text></g>
<g id="n-KPNA1"><circle class="nb" cx="609" cy="2834" r="26"/><text class="lb" x="609" y="2834">KPNA1</text></g>
<g id="n-MIS12"><circle class="nb" cx="443" cy="2876" r="27"/><text class="lb" x="443" y="2876">MIS12</text></g>
<g id="n-PSAT1"><circle class="nb" cx="807" cy="2870" r="26"/><text class="lb" x="807" y="2870">PSAT1</text></g>
<g id="n-MOCOS"><circle class="nb" cx="943" cy="2870" r="26"/><text class="lb" x="943" y="2870">MOCOS</text></g>
<g id="n-AEBP2"><circle class="nb" cx="1068" cy="2870" r="26"/><text class="lb" x="1068" y="2870">AEBP2</text></g>
<g id="n-DNMT1"><circle class="nb" cx="1204" cy="2870" r="26"/><text class="lb" x="1204" y="2870">DNMT1</text></g>
<g id="n-STX17"><circle class="nb" cx="1328" cy="2870" r="26"/><text class="lb" x="1328" y="2870">STX17</text></g>
<g id="n-GOSR2"><circle class="nb" cx="1463" cy="2870" r="26"/><text class="lb" x="1463" y="2870">GOSR2</text></g>
<g id="n-SLC33A1"><circle class="nb" cx="1569" cy="2905" r="29"/><text class="lb" x="1569" y="2905">SLC33A1</text></g>
<g id="n-CDC45"><circle class="nb" cx="675" cy="2922" r="28"/><text class="lb" x="675" y="2922">CDC45</text></g>
<g id="n-GPD2"><circle class="nb" cx="1633" cy="3025" r="27"/><text class="lb" x="1633" y="3025">GPD2</text></g>
<g id="n-RNASEH2A"><circle class="nb" cx="663" cy="3057" r="26"/><text class="lb" x="663" y="3057">RNASEH2A</text></g>
</g>
</svg>
